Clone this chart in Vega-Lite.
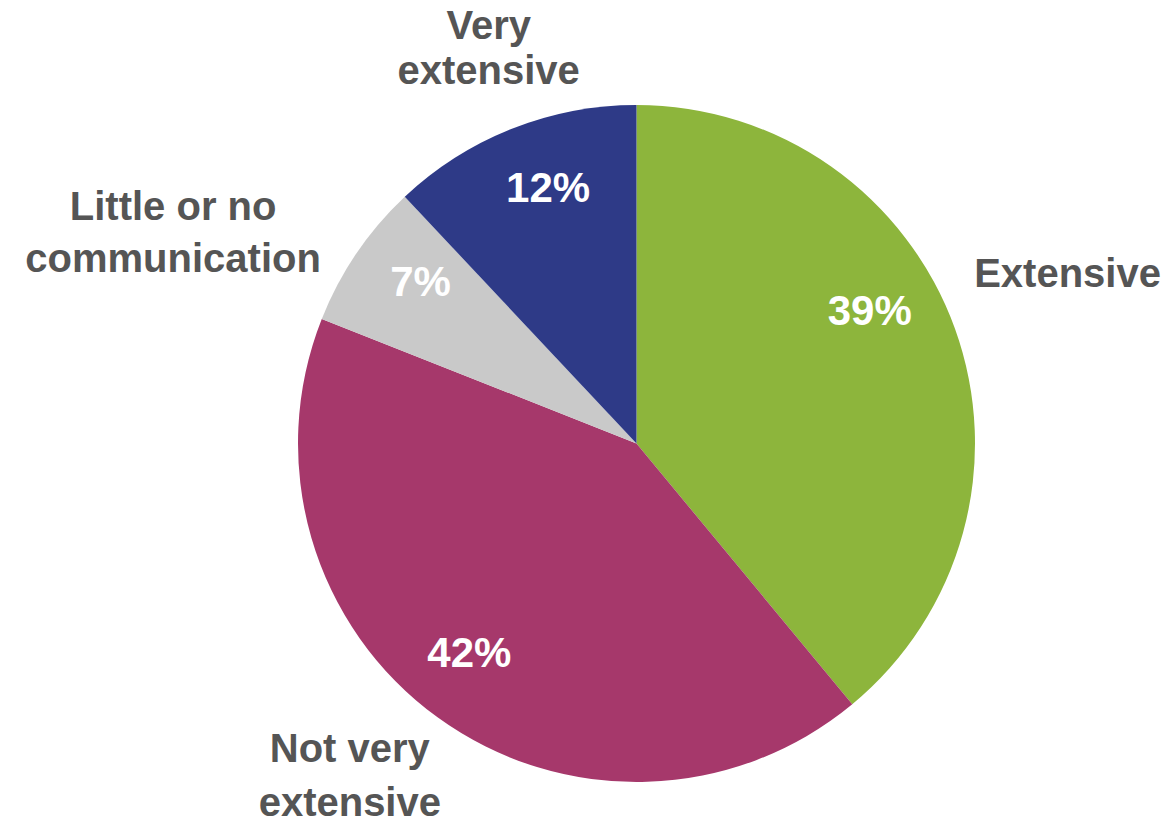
{
  "$schema": "https://vega.github.io/schema/vega-lite/v6.json",
  "width": 677,
  "height": 677,
  "autosize": {"type": "none"},
  "padding": {"left": 298, "top": 105, "right": 199, "bottom": 44},
  "background": "white",
  "view": {"stroke": null},
  "data": {
    "values": [
      {"category": "Extensive", "label": "Extensive", "value": 39, "pct": "39%", "rank": 1},
      {"category": "Not very extensive", "label": "Not very\nextensive", "value": 42, "pct": "42%", "rank": 2},
      {"category": "Little or no communication", "label": "Little or no\ncommunication", "value": 7, "pct": "7%", "rank": 3},
      {"category": "Very extensive", "label": "Very\nextensive", "value": 12, "pct": "12%", "rank": 4}
    ]
  },
  "encoding": {
    "theta": {"field": "value", "type": "quantitative", "stack": true},
    "order": {"field": "rank", "type": "quantitative"}
  },
  "layer": [
    {
      "mark": {"type": "arc", "radius": 338.5},
      "encoding": {
        "color": {
          "field": "category",
          "type": "nominal",
          "scale": {
            "domain": ["Extensive", "Not very extensive", "Little or no communication", "Very extensive"],
            "range": ["#8DB53C", "#A6386B", "#C9C9C9", "#2E3A87"]
          },
          "legend": null
        }
      }
    },
    {
      "mark": {"type": "text", "radius": 269, "thetaOffset": 0.042, "font": "Liberation Sans", "fontWeight": "bold", "fontSize": 42, "color": "white"},
      "encoding": {
        "text": {"condition": {"test": "datum.category !== 'Extensive'", "field": "pct", "type": "nominal"}, "value": ""}
      }
    },
    {
      "mark": {"type": "text", "radius": 268, "thetaOffset": -0.169, "font": "Liberation Sans", "fontWeight": "bold", "fontSize": 42, "color": "white"},
      "encoding": {
        "text": {"condition": {"test": "datum.category === 'Extensive'", "field": "pct", "type": "nominal"}, "value": ""}
      }
    },
    {
      "mark": {"type": "text", "radius": 442, "thetaOffset": 0.036, "font": "Liberation Sans", "fontWeight": "bold", "fontSize": 40, "lineHeight": 45, "lineBreak": "\n", "color": "#555555"},
      "encoding": {
        "text": {"condition": {"test": "datum.category === 'Very extensive'", "field": "label", "type": "nominal"}, "value": ""}
      }
    },
    {
      "mark": {"type": "text", "radius": 463, "thetaOffset": -0.028, "font": "Liberation Sans", "fontWeight": "bold", "fontSize": 40, "color": "#555555"},
      "encoding": {
        "text": {"condition": {"test": "datum.category === 'Extensive'", "field": "label", "type": "nominal"}, "value": ""}
      }
    },
    {
      "mark": {"type": "text", "radius": 520, "thetaOffset": -0.126, "font": "Liberation Sans", "fontWeight": "bold", "fontSize": 40, "lineHeight": 52, "lineBreak": "\n", "color": "#555555"},
      "encoding": {
        "text": {"condition": {"test": "datum.category === 'Little or no communication'", "field": "label", "type": "nominal"}, "value": ""}
      }
    },
    {
      "mark": {"type": "text", "radius": 420, "thetaOffset": 0.123, "font": "Liberation Sans", "fontWeight": "bold", "fontSize": 40, "lineHeight": 54, "lineBreak": "\n", "color": "#555555"},
      "encoding": {
        "text": {"condition": {"test": "datum.category === 'Not very extensive'", "field": "label", "type": "nominal"}, "value": ""}
      }
    }
  ]
}
